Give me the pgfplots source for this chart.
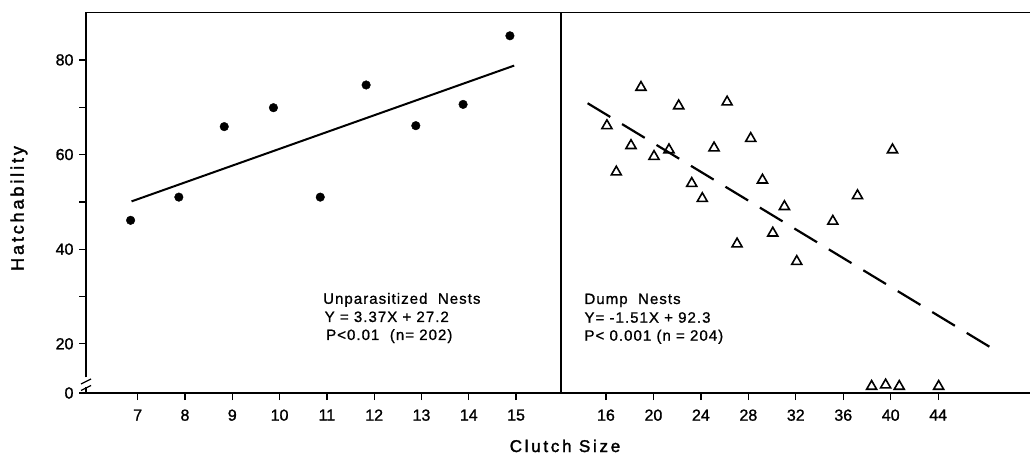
\documentclass[border=0pt]{standalone}
\usepackage{pgfplots}
\pgfplotsset{compat=1.18}
\usepackage{fontspec}
\setmainfont[FakeBold=1.2]{Liberation Sans}
\newfontfamily\labelfont[LetterSpace=16,FakeBold=1.8]{Liberation Sans}
\newfontfamily\notefont[LetterSpace=7,FakeBold=1.0]{Liberation Sans}

\pgfplotstableread{
x y
6.85 46.1
7.87 51.0
8.83 65.9
9.87 69.9
10.86 51.0
11.83 74.7
12.88 66.1
13.88 70.6
14.87 85.1
}\unpar

\pgfplotstableread{
x y
18.95 74.2
22.13 70.3
26.21 71.1
16.08 66.1
18.11 61.9
16.87 56.3
20.05 59.6
21.31 61.0
25.11 61.4
28.20 63.4
23.23 53.9
24.12 50.7
29.19 54.6
31.04 49.0
30.06 43.4
27.05 41.1
32.08 37.4
35.12 45.9
37.20 51.3
40.15 61.0
38.39 11.0
39.57 11.3
40.72 11.0
44.04 11.0
}\dump

\begin{document}
\begin{tikzpicture}[x=1pt,y=1pt]
\useasboundingbox (0,0) rectangle (1030,455);
\pgfplotsset{
  panel/.style={
    scale only axis, anchor=south west, height=380.4pt,
    ymin=9.6, ymax=90, clip=false,
    tick align=outside, xtick pos=left, ytick pos=left,
    major tick length=7pt, minor tick length=7pt,
    axis line style={line width=1.4pt},
    every tick/.style={black, line width=1.3pt},
    tick label style={font=\fontsize{16}{19}\selectfont},
    xticklabel style={yshift=-6pt},
    yticklabel style={xshift=-2pt},
    /pgf/number format/assume math mode=true,
  }
}
\begin{axis}[panel,
  at={(86pt,62pt)}, width=475pt,
  xmin=5.907, xmax=15.95,
  xtick={7,8,...,15},
  ytick={9.6,20,40,60,80}, yticklabels={0,20,40,60,80},
  minor ytick={30,50,70},
]
\addplot[only marks, mark=*, mark size=4.3pt, black] table[x=x,y=y]{\unpar};
\addplot[black, line width=2pt] coordinates {(6.87,50.1) (14.96,78.8)};
\end{axis}

\begin{axis}[panel,
  at={(561pt,62pt)}, width=469pt,
  xmin=12.21, xmax=51.74,
  xtick={16,20,...,44}, ytick=\empty,
  axis x line*=box, axis y line*=left,
]
\addplot[only marks, mark=triangle, mark size=5.8pt, black, mark options={line width=1.6pt}] table[x=x,y=y]{\dump};
\addplot[black, line width=2.2pt, dash pattern=on 26.5pt off 13.8pt] coordinates {(14.45,70.85) (48.64,18.9)};
\end{axis}

% axis break on the left axis
\fill[white] (83,68) rectangle (89.5,78);
\draw[line width=1.3pt] (81,71) -- (91,76);
\draw[line width=1.3pt] (81,64.5) -- (91,69.5);
\draw[line width=1.4pt] (86,62) -- (86,67);
\draw[line width=1.4pt] (86,77.5) -- (86,80);

% labels
\node[rotate=90, font=\fontsize{18}{20}\labelfont] at (19,246.5) {Hatchability};
\node[anchor=base, font=\fontsize{17}{20}\labelfont] at (565,3) {Clutch Size};

% annotations
\begin{scope}[every node/.style={anchor=base west, inner sep=0pt, font=\fontsize{15}{18}\notefont}]
\node at (323,151.2) {Unparasitized\ \ Nests};
\node at (324.5,133) {Y = 3.37X + 27.2};
\node at (326,115) {P<0.01\ \ (n= 202)};
\node at (584.3,151) {Dump\ \ Nests};
\node at (584.3,132.3) {Y= -1.51X + 92.3};
\node at (584.3,114.3) {P< 0.001 (n = 204)};
\end{scope}
\end{tikzpicture}
\end{document}
